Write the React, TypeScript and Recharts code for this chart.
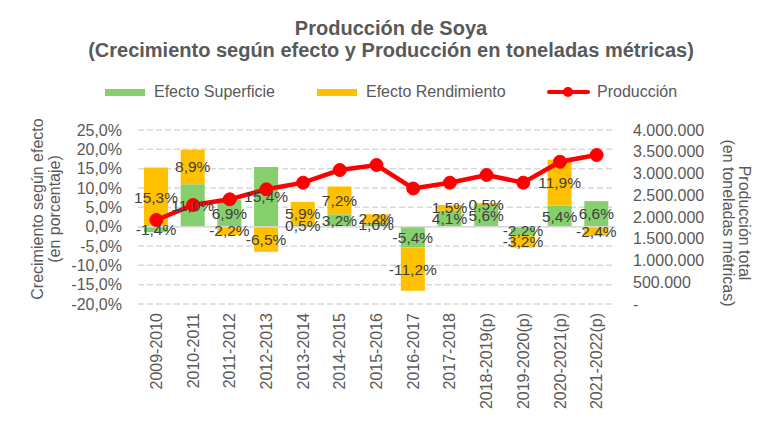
import React from "react"
import {
  ComposedChart, Bar, Line, XAxis, YAxis, CartesianGrid, ReferenceLine, LabelList,
} from "recharts"

// ─── Datos ────────────────────────────────────────────────────────────────────
const periodos = [
  "2009-2010", "2010-2011", "2011-2012", "2012-2013", "2013-2014", "2014-2015",
  "2015-2016", "2016-2017", "2017-2018", "2018-2019(p)", "2019-2020(p)",
  "2020-2021(p)", "2021-2022(p)",
]
const efectoSuperficie  = [-1.4, 11.0, 6.9, 15.4, 0.5, 3.2, 1.0, -5.4, 4.1, 5.6, -2.2, 5.4, 6.6]
const efectoRendimiento = [15.3, 8.9, -2.2, -6.5, 5.9, 7.2, 2.2, -11.2, 1.5, 0.5, -3.2, 11.9, -2.4]
const produccion = [
  1931000, 2276000, 2407000, 2637000, 2789000, 3080000, 3195000,
  2655000, 2789000, 2966000, 2789000, 3271000, 3425000,
]
const ticksPct  = [-20, -15, -10, -5, 0, 5, 10, 15, 20, 25]
const ticksProd = [0, 500000, 1000000, 1500000, 2000000, 2500000, 3000000, 3500000, 4000000]

// ─── Estilos ──────────────────────────────────────────────────────────────────
const FONT = '"Liberation Sans", Arial, sans-serif'
const COLOR_SUP  = "#86cf6d"
const COLOR_REND = "#ffc000"
const COLOR_PROD = "#ff0000"
const COLOR_TEXT = "#595959"
const COLOR_GRID = "#d9d9d9"

const W = 782
const H = 437
const MARGIN = { top: 130, right: 0, bottom: 33, left: 0 }

const data = periodos.map((p, i) => ({
  periodo: p,
  sup: efectoSuperficie[i],
  rend: efectoRendimiento[i],
  prod: produccion[i],
}))

const fmtPct = (v: any) => `${Number(v).toFixed(1).replace(".", ",")}%`
const fmtMiles = (v: number) =>
  v === 0 ? "-" : String(Math.round(v)).replace(/\B(?=(\d{3})+(?!\d))/g, ".")

function XTick({ x, y, payload }: any) {
  return (
    <text
      x={x} y={y} dy="0.35em"
      transform={`rotate(-90, ${x}, ${y})`}
      textAnchor="end"
      fill={COLOR_TEXT}
      fontSize={16}
      fontFamily={FONT}
    >
      {payload.value}
    </text>
  )
}

function LeftTitle() {
  const cy = 209
  return (
    <g fill={COLOR_TEXT} fontSize={16} fontFamily={FONT} textAnchor="middle">
      <text x={43} y={cy} transform={`rotate(-90, 43, ${cy})`}>Crecimiento según efecto</text>
      <text x={60} y={cy} transform={`rotate(-90, 60, ${cy})`}>(en porcentaje)</text>
    </g>
  )
}

function RightTitle() {
  const cy = 223
  return (
    <g fill={COLOR_TEXT} fontSize={16} fontFamily={FONT} textAnchor="middle">
      <text x={739} y={cy} transform={`rotate(90, 739, ${cy})`}>Producción total</text>
      <text x={723} y={cy} transform={`rotate(90, 723, ${cy})`}>(en toneladas métricas)</text>
    </g>
  )
}

function Axes({ visible }: { visible: boolean }) {
  return (
    <>
      <XAxis
        dataKey="periodo"
        height={100}
        interval={0}
        axisLine={false}
        tickLine={false}
        tickMargin={3}
        tick={visible ? <XTick /> : false}
      />
      <YAxis
        yAxisId="left"
        domain={[-20, 25]}
        ticks={ticksPct}
        interval={0}
        width={138}
        axisLine={false}
        tickLine={false}
        tickMargin={10}
        tickFormatter={fmtPct}
        tick={visible ? { fontSize: 16, fill: COLOR_TEXT, fontFamily: FONT } : false}
        label={visible ? () => <LeftTitle /> : undefined}
      />
      <YAxis
        yAxisId="right"
        orientation="right"
        domain={[0, 4000000]}
        ticks={ticksProd}
        interval={0}
        width={167}
        axisLine={false}
        tickLine={false}
        tickMargin={12}
        tickFormatter={fmtMiles}
        tick={visible ? { fontSize: 16, fill: COLOR_TEXT, fontFamily: FONT } : false}
        label={visible ? () => <RightTitle /> : undefined}
      />
    </>
  )
}

function Legend() {
  const item = (left: number, swatch: React.ReactNode, text: string) => (
    <div style={{ position: "absolute", left, top: 84, height: 16, display: "flex", alignItems: "center" }}>
      {swatch}
      <span style={{ fontSize: 16, lineHeight: "16px", color: COLOR_TEXT, whiteSpace: "nowrap" }}>{text}</span>
    </div>
  )
  const box = (color: string) => (
    <span style={{ display: "inline-block", width: 40, height: 7, background: color, marginRight: 9 }} />
  )
  const lineMarker = (
    <span style={{ position: "relative", display: "inline-block", width: 43, height: 16, marginRight: 7 }}>
      <span style={{ position: "absolute", left: 0, top: 6, width: 43, height: 4, background: COLOR_PROD, borderRadius: 2 }} />
      <span style={{ position: "absolute", left: 16, top: 3, width: 10, height: 10, borderRadius: 5, background: COLOR_PROD }} />
    </span>
  )
  return (
    <>
      {item(105, box(COLOR_SUP), "Efecto Superficie")}
      {item(317, box(COLOR_REND), "Efecto Rendimiento")}
      {item(547, lineMarker, "Producción")}
    </>
  )
}

export default function App() {
  return (
    <div style={{ position: "absolute", left: 0, top: 0, width: W, height: H, background: "#fff", fontFamily: FONT }}>
      <div style={{
        position: "absolute", top: 17, left: 0, width: W, textAlign: "center",
        fontSize: 20, lineHeight: "22px", fontWeight: "bold", color: COLOR_TEXT,
      }}>
        Producción de Soya<br />
        (Crecimiento según efecto y Producción en toneladas métricas)
      </div>

      <Legend />

      {/* Gráfico base: barras + línea */}
      <div style={{ position: "absolute", left: 0, top: 0 }}>
        <ComposedChart width={W} height={H} data={data} margin={MARGIN} stackOffset="sign">
          <CartesianGrid
            yAxisId="left"
            vertical={false}
            stroke={COLOR_GRID}
            strokeWidth={1.5}
            strokeDasharray="6 3"
          />
          <Axes visible />
          <ReferenceLine yAxisId="left" y={0} stroke={COLOR_GRID} strokeWidth={1.5} />
          <Bar yAxisId="left" dataKey="sup" stackId="e" fill={COLOR_SUP} barSize={24} isAnimationActive={false} />
          <Bar yAxisId="left" dataKey="rend" stackId="e" fill={COLOR_REND} barSize={24} isAnimationActive={false} />
          <Line
            yAxisId="right"
            dataKey="prod"
            stroke={COLOR_PROD}
            strokeWidth={4.5}
            dot={{ r: 6.5, fill: COLOR_PROD, stroke: COLOR_PROD, strokeWidth: 1 }}
            activeDot={false}
            isAnimationActive={false}
          />
        </ComposedChart>
      </div>

      {/* Capa superior: etiquetas de datos por encima de la línea */}
      <div style={{ position: "absolute", left: 0, top: 0, pointerEvents: "none" }}>
        <ComposedChart width={W} height={H} data={data} margin={MARGIN} stackOffset="sign">
          <Axes visible={false} />
          <Bar yAxisId="left" dataKey="sup" stackId="e" fill="none" barSize={24} isAnimationActive={false}>
            <LabelList dataKey="sup" position="center" formatter={fmtPct} fill="#404040" fontSize={15.5} fontFamily={FONT} />
          </Bar>
          <Bar yAxisId="left" dataKey="rend" stackId="e" fill="none" barSize={24} isAnimationActive={false}>
            <LabelList dataKey="rend" position="center" formatter={fmtPct} fill="#404040" fontSize={15.5} fontFamily={FONT} />
          </Bar>
        </ComposedChart>
      </div>
    </div>
  )
}
